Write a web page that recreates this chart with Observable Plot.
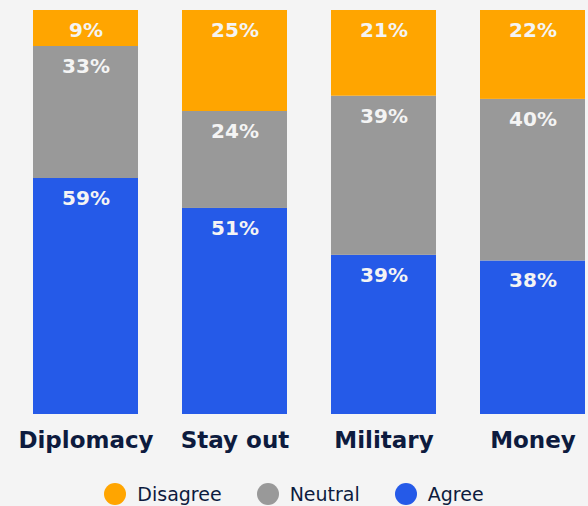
<!DOCTYPE html>
<html>
<head>
<meta charset="utf-8">
<script src="https://cdn.jsdelivr.net/npm/d3@7"></script>
<script src="https://cdn.jsdelivr.net/npm/@observablehq/plot@0.6"></script>
<style>
  html, body { margin: 0; padding: 0; background: #f4f4f4; }
  body { width: 588px; height: 506px; overflow: hidden; font-family: "DejaVu Sans", sans-serif; }
  #legend { display: flex; justify-content: center; align-items: center; gap: 35px; margin-top: 23px; color: #0d1b3e; font-size: 19px; }
  #legend .item { display: flex; align-items: center; gap: 11px; }
  #legend .dot { width: 22px; height: 22px; border-radius: 50%; display: inline-block; }
</style>
</head>
<body>
<div id="chart"></div>
<div id="legend"></div>
<script>
const categories = ["Diplomacy", "Stay out", "Military", "Money"];
const responses = ["Agree", "Neutral", "Disagree"];
const agree = [59, 51, 39, 38];
const neutral = [33, 24, 39, 40];
const disagree = [9, 25, 21, 22];
const colors = {Disagree: "#ffa500", Neutral: "#999999", Agree: "#255ae8"};
const legendOrder = ["Disagree", "Neutral", "Agree"];

const data = [];
categories.forEach((c, i) => {
  data.push({category: c, response: "Agree", value: agree[i]});
  data.push({category: c, response: "Neutral", value: neutral[i]});
  data.push({category: c, response: "Disagree", value: disagree[i]});
});

const chart = Plot.plot({
  width: 588,
  height: 460,
  marginTop: 10,
  marginBottom: 46,
  marginLeft: 32,
  marginRight: 1,
  style: {background: "#f4f4f4", fontFamily: "'DejaVu Sans', sans-serif"},
  x: {domain: categories, paddingInner: 0.293, paddingOuter: 0, label: null},
  y: {axis: null, domain: [0, 1]},
  color: {domain: responses, range: responses.map(r => colors[r])},
  marks: [
    Plot.barY(data, Plot.stackY({
      x: "category", y: "value", fill: "response", order: responses, offset: "normalize"
    })),
    Plot.text(data, Plot.stackY2({
      x: "category", y: "value", z: "response", order: responses, offset: "normalize",
      text: d => d.value + "%", dy: 20, fill: "#f4f4f4", fontSize: 20, fontWeight: 700
    })),
    Plot.axisX({tickSize: 0, tickPadding: 0, dy: 17, fontSize: 23, fontWeight: 700, fill: "#0d1b3e", label: null})
  ]
});
document.getElementById("chart").appendChild(chart);

const legend = document.getElementById("legend");
legendOrder.forEach(r => {
  const item = document.createElement("div");
  item.className = "item";
  const dot = document.createElement("span");
  dot.className = "dot";
  dot.style.background = colors[r];
  const label = document.createElement("span");
  label.textContent = r;
  item.appendChild(dot);
  item.appendChild(label);
  legend.appendChild(item);
});
</script>
</body>
</html>
